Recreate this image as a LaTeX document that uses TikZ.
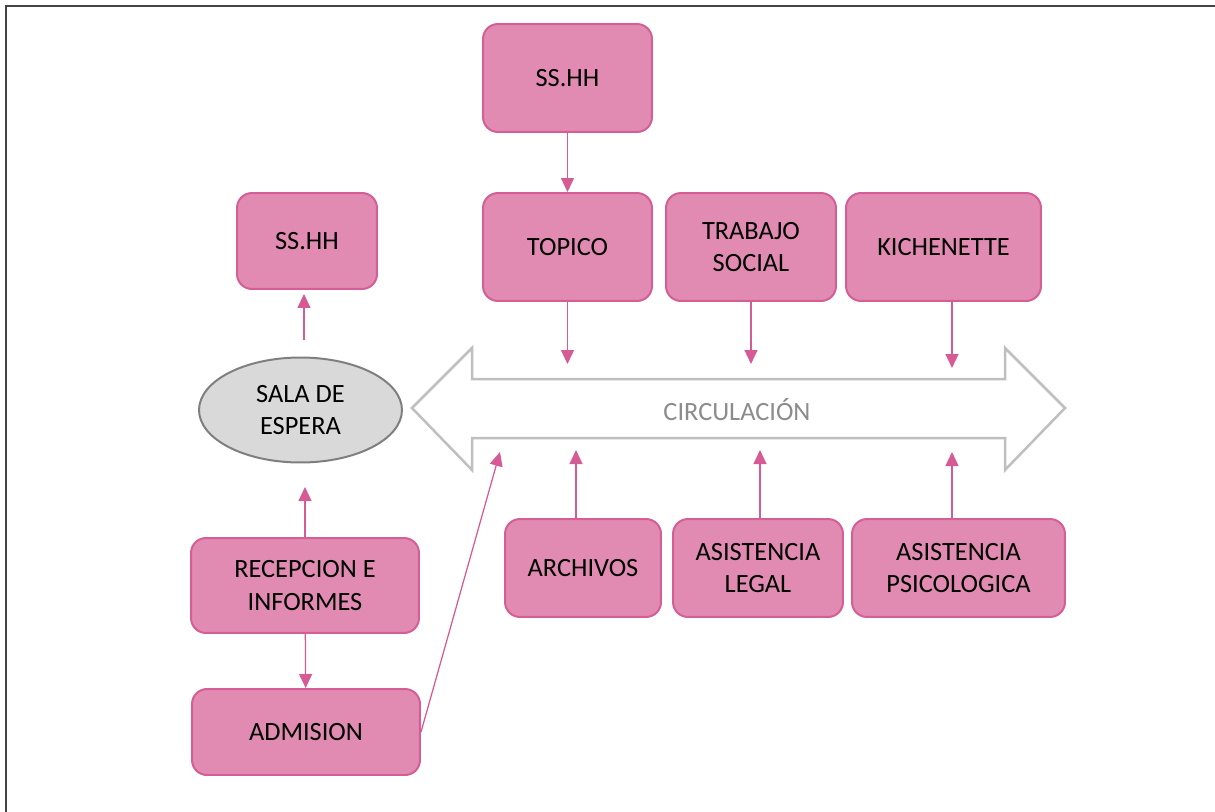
\documentclass[tikz,border=0pt]{standalone}
\usepackage{fontspec}
\setmainfont{Carlito}
\usetikzlibrary{arrows,arrows.meta,shapes.geometric}

\definecolor{rosa}{RGB}{225,139,178}
\definecolor{rosaborde}{RGB}{213,94,150}
\definecolor{rosaflecha}{RGB}{214,90,148}
\definecolor{grisclaro}{RGB}{217,217,217}
\definecolor{grisborde}{RGB}{127,127,127}
\definecolor{grisflecha}{RGB}{191,191,191}
\definecolor{gristexto}{RGB}{140,140,140}
\definecolor{marco}{RGB}{68,68,68}

\begin{document}
\begin{tikzpicture}[x=0.02cm,y=-0.02cm,
box/.style={draw=rosaborde,fill=rosa,line width=0.04cm,rounded corners=0.3cm,align=center,inner sep=0pt,font=\fontsize{15}{18.5}\selectfont},
sala/.style={ellipse,draw=grisborde,fill=grisclaro,line width=0.04cm,align=center,inner sep=0pt,minimum width=4.06cm,minimum height=2.1cm,font=\fontsize{15}{18.5}\selectfont},
arrow/.style={-{Triangle[length=0.28cm,width=0.26cm]},draw=rosaflecha,line width=0.025cm},
bigarrow/.style={draw=grisflecha,fill=white,line width=0.05cm},
label/.style={text=gristexto,font=\fontsize{15}{18.5}\selectfont} ]

\useasboundingbox (0,0) rectangle (1215,812);
\draw[marco,line width=0.04cm] (6,812) -- (6,6) -- (1215,6);

% big arrow
\draw[bigarrow] (412,408) -- (472,348) -- (472,379) -- (1005,379) -- (1005,348) -- (1065,408) -- (1005,470) -- (1005,438) -- (472,438) -- (472,470) -- cycle;
\node[label](circ) at (737,410) {CIRCULACIÓN};

\node[box,minimum width=3.38cm,minimum height=2.16cm](ssarriba) at (567.5,78) {SS.HH};
\node[box,minimum width=2.8cm,minimum height=1.92cm](ssizq) at (307,241) {SS.HH};

\node[box,minimum width=3.38cm,minimum height=2.16cm](topico) at (567.5,247) {TOPICO};
\node[box,minimum width=3.4cm,minimum height=2.16cm](trabajo) at (751,247) {TRABAJO\\SOCIAL};
\node[box,minimum width=3.9cm,minimum height=2.16cm](kichen) at (943.5,247) {KICHENETTE};

\node[sala](sala) at (300.5,410) {SALA DE\\ESPERA};

\node[box,minimum width=4.56cm,minimum height=1.9cm](recepcion) at (305,585.5) {RECEPCION E\\INFORMES};
\node[box,minimum width=4.56cm,minimum height=1.72cm](admision) at (306,732) {ADMISION};

\node[box,minimum width=3.12cm,minimum height=1.96cm](archivos) at (583,568) {ARCHIVOS};
\node[box,minimum width=3.4cm,minimum height=1.96cm](legal) at (758,568) {ASISTENCIA\\LEGAL};
\node[box,minimum width=4.26cm,minimum height=1.96cm](psico) at (958.5,568) {ASISTENCIA\\PSICOLOGICA};

% ends of the arrows at the circulation
\coordinate (c1) at (567.5,364);
\coordinate (c2) at (751,364);
\coordinate (c3) at (952,368);
\coordinate (c4) at (576,450);
\coordinate (c5) at (760,450);
\coordinate (c6) at (952,452);
\coordinate (c7) at (500,452);
\coordinate (s1) at (304,340);
\coordinate (s2) at (305,487);

\draw[arrow] (ssarriba) -- (topico);
\draw[arrow] (topico.south) -- (c1);
\draw[arrow] (trabajo.south) -- (c2);
\draw[arrow] (c3 |- kichen.south) -- (c3);
\draw[arrow] (c4 |- archivos.north) -- (c4);
\draw[arrow] (c5 |- legal.north) -- (c5);
\draw[arrow] (c6 |- psico.north) -- (c6);
\draw[arrow] (admision.east) -- (c7);

\draw[arrow,shorten >=0.08cm] (s1) -- (s1 |- ssizq.south);
\draw[arrow] (recepcion.north) -- (s2);
\draw[arrow] (recepcion) -- (admision);

\end{tikzpicture}
\end{document}
